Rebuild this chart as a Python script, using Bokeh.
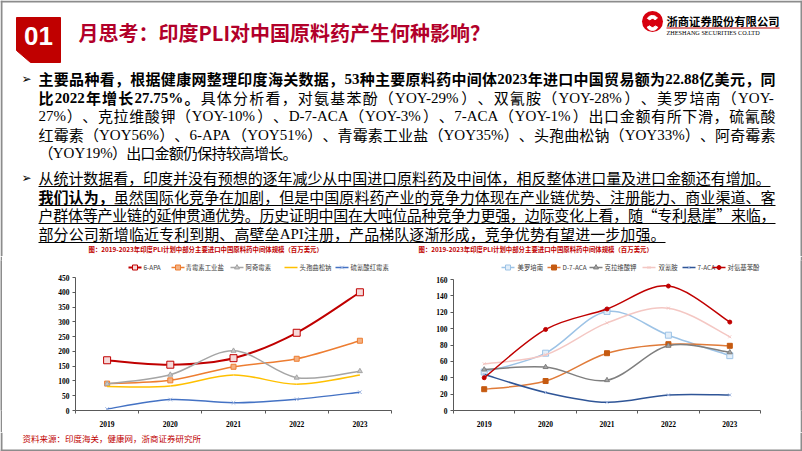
from bokeh.plotting import figure
from bokeh.layouts import column, row
from bokeh.models import Range1d, FixedTicker, Label, ColumnDataSource
from bokeh.core.properties import value
from bokeh.embed import file_html
from bokeh.resources import INLINE

# ---------------- data ----------------
years = ["2019", "2020", "2021", "2022", "2023"]

c1_names = ["6-APA", "青霉素工业盐", "阿奇霉素", "头孢曲松钠", "硫氰酸红霉素"]
c1_apa6 = [170, 155, 177, 263, 400]
c1_qms = [91, 102, 148, 175, 236]
c1_aqms = [90, 121, 202, 111, 133]
c1_tbqsn = [81, 83, 120, 89, 120]
c1_lqshms = [5, 37, 26, 38, 62]
c1_yticks = [0, 50, 100, 150, 200, 250, 300, 350, 400, 450]

c2_names = ["美罗培南", "D-7-ACA", "克拉维酸钾", "双氰胺", "7-ACA", "对氨基苯酚"]
c2_mlpn = [47, 70, 121, 92, 67]
c2_d7aca = [26, 36, 70, 81, 79]
c2_klwsj = [50, 53, 37, 79, 71]
c2_sqa = [57, 68, 107, 125, 90]
c2_aca7 = [44, 22, 10, 19, 19]
c2_djbbf = [40, 99, 124, 152, 108]
c2_yticks = [0, 20, 40, 60, 80, 100, 120, 140, 160]

chart_title = "图：2019-2023年印度PLI计划中部分主要进口中国原料药中间体规模（百万美元）"
source_note = "资料来源：印度海关，健康网，浙商证券研究所"
page_no = "6"

CJK = "Noto Sans CJK SC"
SERIF = "Liberation Serif"
BORDER = "#8C8C8C"

# ---------------- text layout helpers ----------------
W_R = {"%": 0.833, ".": 0.25, "-": 0.333, "Y": 0.722, "O": 0.722, "A": 0.722,
       "C": 0.667, "D": 0.722, "P": 0.556, "I": 0.333, "L": 0.611}
W_B = {"%": 1.0, ".": 0.25, "-": 0.333, "Y": 0.722, "O": 0.778, "A": 0.722,
       "C": 0.722, "D": 0.722, "P": 0.611, "I": 0.389, "L": 0.667}


def is_lat(ch):
    return ord(ch) < 0x2000


def layout_line(segs, x0, x1, y, fs, out):
    toks = []
    for text, bold in segs:
        i = 0
        while i < len(text):
            if is_lat(text[i]):
                j = i
                while j < len(text) and is_lat(text[j]):
                    j += 1
                run = text[i:j]
                tb = W_B if bold else W_R
                w = sum(tb.get(c, 0.5) for c in run) * fs
                toks.append((run, bold, SERIF, w))
                i = j
            else:
                toks.append((text[i], bold, CJK, fs))
                i += 1
    nat = sum(t[3] for t in toks)
    gap = (x1 - x0 - nat) / max(len(toks) - 1, 1)
    x = x0
    for t, b, f, w in toks:
        out["x"].append(x)
        out["y"].append(y)
        out["t"].append(t)
        out["f"].append(f)
        out["s"].append("bold" if b else "normal")
        x += w + gap


body = [
    ([("主要品种看，根据健康网整理印度海关数据，53种主要原料药中间体2023年进口中国贸易额为22.88亿美元，同", True)], 78, 775),
    ([("比2022年增长27.75%。", True), ("具体分析看，对氨基苯酚（YOY-29%）、双氰胺（YOY-28%）、美罗培南（YOY-", False)], 97, 775),
    ([("27%）、克拉维酸钾（YOY-10%）、D-7-ACA（YOY-3%）、7-ACA（YOY-1%）出口金额有所下滑，硫氰酸", False)], 115, 775),
    ([("红霉素（YOY56%）、6-APA（YOY51%）、青霉素工业盐（YOY35%）、头孢曲松钠（YOY33%）、阿奇霉素", False)], 134, 775),
    ([("（YOY19%）出口金额仍保持较高增长。", False)], 152, 297),
    ([("从统计数据看，印度并没有预想的逐年减少从中国进口原料药及中间体，相反整体进口量及进口金额还有增加。", False)], 177, 770),
    ([("我们认为，", True), ("虽然国际化竞争在加剧，但是中国原料药产业的竞争力体现在产业链优势、注册能力、商业渠道、客", False)], 196, 775),
    ([("户群体等产业链的延伸贯通优势。历史证明中国在大吨位品种竞争力更强，边际变化上看，随“专利悬崖”来临，", False)], 214, 775),
    ([("部分公司新增临近专利到期、高壁垒API注册，产品梯队逐渐形成，竞争优势有望进一步加强。", False)], 233, 665),
]


def blank(width, height, xr, yr, bg="white"):
    f = figure(width=width, height=height, x_range=xr, y_range=yr, output_backend="svg",
               toolbar_location=None, min_border=0, x_axis_location=None,
               y_axis_location=None, background_fill_color=bg, border_fill_color=bg)
    f.grid.visible = False
    f.outline_line_color = None
    return f


# ---------------- top figure (header + text) ----------------
top = blank(802, 256, Range1d(0, 802), Range1d(256, 0))
top.segment([1, 801, 0], [0, 0, 1], [1, 801, 802], [256, 256, 1], line_color=BORDER, line_width=2)

top.patch([16, 60, 60, 30, 16], [17, 17, 62, 62, 50], color="#C00000")
top.text([38], [35], text=["01"], text_font=value("Liberation Sans"), text_font_style="bold",
         text_font_size="26px", text_color="white", text_align="center", text_baseline="middle")
top.text([78], [32], text=["月思考：印度PLI对中国原料药产生何种影响？"], text_font=value(CJK),
         text_font_style="bold", text_font_size="20px", text_color="#B2002A",
         text_align="left", text_baseline="middle")

# logo
top.scatter([652], [21], marker="circle", size=21, fill_color="#D7000F", line_color=None)
top.annular_wedge([652], [21], inner_radius=3, outer_radius=6, start_angle=0.6, end_angle=2.6,
                  color="white")
top.annular_wedge([652], [24], inner_radius=3, outer_radius=6, start_angle=3.6, end_angle=5.8,
                  color="white")
top.text([666], [20], text=["浙商证券股份有限公司"], text_font=value(CJK), text_font_style="bold",
         text_font_size="11.3px", text_color="black", text_baseline="middle")
top.segment([666], [27.5], [779], [27.5], line_color="#C00000", line_width=1)
top.text([666], [31.5], text=["ZHESHANG SECURITIES CO.LTD"], text_font=value(SERIF),
         text_font_size="6.2px", text_color="black", text_baseline="middle")

# body text
tok = dict(x=[], y=[], t=[], f=[], s=[])
for segs, y, xe in body:
    layout_line(segs, 38, xe, y, 15, tok)
top.text(x="x", y="y", text="t", text_font="f", text_font_style="s", source=ColumnDataSource(tok),
         text_font_size="15px", text_color="black", text_align="left", text_baseline="middle")
top.text([21, 21], [78, 177], text=["➢", "➢"], text_font=value("DejaVu Sans"),
         text_font_size="12px", text_color="black", text_baseline="middle")
ul_y = [186, 205, 223, 242]
ul_x1 = [770, 775, 775, 665]
top.segment(x0=[38] * 4, y0=ul_y, x1=ul_x1, y1=ul_y, line_color="black", line_width=1)

# chart titles
top.text([88, 418], [249, 249], text=[chart_title, chart_title], text_font=value(CJK),
         text_font_style="bold", text_font_size="6.4px", text_color="#C00000",
         text_baseline="middle")


# ---------------- charts ----------------
def smooth(vals):
    n = len(vals)
    xs = list(range(n))
    d = dict(x0=[], y0=[], x1=[], y1=[], cx0=[], cy0=[], cx1=[], cy1=[])
    for i in range(n - 1):
        a = max(i - 1, 0)
        b = min(i + 2, n - 1)
        d["x0"].append(xs[i]); d["y0"].append(vals[i])
        d["x1"].append(xs[i + 1]); d["y1"].append(vals[i + 1])
        d["cx0"].append(xs[i] + (xs[i + 1] - xs[a]) / 6)
        d["cy0"].append(vals[i] + (vals[i + 1] - vals[a]) / 6)
        d["cx1"].append(xs[i + 1] - (xs[b] - xs[i]) / 6)
        d["cy1"].append(vals[i + 1] - (vals[b] - vals[i]) / 6)
    return d


def make_chart(cx0, cx1, cy0, cy1, fl, fr, ft, fb, ymax, ymax_px, yticks, series, leg):
    y_end = ymax * (fb - ft) / (fb - ymax_px)
    n = len(years)
    p = figure(width=cx1 - cx0, height=cy1 - cy0, x_range=Range1d(-0.5, n - 0.5),
               y_range=Range1d(0, y_end), output_backend="svg", toolbar_location=None,
               min_border_left=fl - cx0, min_border_right=cx1 - fr,
               min_border_top=ft - cy0, min_border_bottom=cy1 - fb)
    p.grid.visible = False
    p.outline_line_color = None
    ya = p.yaxis[0]
    ya.ticker = FixedTicker(ticks=yticks, minor_ticks=[])
    ya.bounds = (0, ymax)
    ya.major_tick_in = 0
    ya.major_tick_out = 3
    ya.major_label_standoff = 3
    xa = p.xaxis[0]
    xa.ticker = FixedTicker(ticks=list(range(n)), minor_ticks=[i - 0.5 for i in range(n + 1)])
    xa.major_label_overrides = {i: y for i, y in enumerate(years)}
    xa.major_tick_in = 0
    xa.major_tick_out = 0
    xa.minor_tick_in = 0
    xa.minor_tick_out = 3
    xa.major_label_standoff = 7
    for ax in (xa, ya):
        ax.axis_line_color = "#595959"
        ax.major_tick_line_color = "#595959"
        ax.minor_tick_line_color = "#595959"
        ax.major_label_text_font = SERIF
        ax.major_label_text_font_style = "bold"
        ax.major_label_text_font_size = "7.5px"
        ax.major_label_text_color = "black"

    def dx(px):
        return -0.5 + (px - fl) * n / (fr - fl)

    def dy(py):
        return (fb - py) * y_end / (fb - ft)

    xs = list(range(n))
    ly = dy(267)
    for (name, vals, color, lw, mk, ms, mfill, mline), (lx0, tx) in zip(series, leg):
        p.bezier(source=ColumnDataSource(smooth(vals)), x0="x0", y0="y0", x1="x1", y1="y1",
                 cx0="cx0", cy0="cy0", cx1="cx1", cy1="cy1", line_color=color, line_width=lw)
        p.segment([dx(lx0)], [ly], [dx(lx0 + 13)], [ly], line_color=color, line_width=lw)
        if mk:
            p.scatter(xs, vals, marker=mk, size=ms, fill_color=mfill, line_color=mline,
                      line_width=1)
            p.scatter([dx(lx0 + 6.5)], [ly], marker=mk, size=min(ms, 5), fill_color=mfill,
                      line_color=mline, line_width=1)
        p.text([dx(tx)], [ly], text=[name], text_font=value(CJK), text_font_size="6.4px",
               text_color="#404040", text_baseline="middle")
    return p, dx, dy


s1 = [
    (c1_names[0], c1_apa6, "#C00000", 2, "square", 7, "#F6DADA", "#C00000"),
    (c1_names[1], c1_qms, "#ED7D31", 1.5, "square", 5, "#F4B183", "#ED7D31"),
    (c1_names[2], c1_aqms, "#A5A5A5", 1.5, "triangle", 5, "#C9C9C9", "#A5A5A5"),
    (c1_names[3], c1_tbqsn, "#FFC000", 1.5, None, 0, None, None),
    (c1_names[4], c1_lqshms, "#4472C4", 1.5, "x", 5, None, "#9DB4E0"),
]
leg1 = [(128, 143), (171, 185), (230, 245), (284, 299), (335, 350)]
s2 = [
    (c2_names[0], c2_mlpn, "#9DC3E6", 1.5, "square", 6, "#E2EEF9", "#9DC3E6"),
    (c2_names[1], c2_d7aca, "#E07B39", 1.5, "square", 5, "#C55A11", "#C55A11"),
    (c2_names[2], c2_klwsj, "#7F7F7F", 1.5, "triangle", 5, "#A5A5A5", "#7F7F7F"),
    (c2_names[3], c2_sqa, "#F4C7C3", 1.5, "x", 4, None, "#F4C7C3"),
    (c2_names[4], c2_aca7, "#2F5597", 1.5, "x", 4, None, "#9DB4E0"),
    (c2_names[5], c2_djbbf, "#C00000", 1.5, "circle", 4, "#C00000", "#C00000"),
]
leg2 = [(501, 517), (547, 562), (589, 604), (642, 658), (682, 697), (712, 727)]

left, _, _ = make_chart(2, 400, 256, 432, 75, 391, 260, 410, 450, 277, c1_yticks, s1, leg1)
right, rdx, rdy = make_chart(400, 800, 256, 432, 453, 760, 260, 410, 160, 279, c2_yticks, s2, leg2)
right.add_layout(Label(x=rdx(780), y=rdy(421), text=page_no, text_font="Liberation Sans",
                       text_font_size="15px", text_color="#595959", text_align="center",
                       text_baseline="middle"))

strip_l = blank(2, 176, Range1d(0, 1), Range1d(0, 1), bg=BORDER)
strip_r = blank(2, 176, Range1d(0, 1), Range1d(0, 1), bg=BORDER)

# ---------------- bottom ----------------
bot = blank(802, 19, Range1d(0, 802), Range1d(451, 432))
bot.segment([1, 801, 0], [432, 432, 450], [1, 801, 802], [451, 451, 450],
            line_color=BORDER, line_width=2)
bot.text([22], [437.5], text=[source_note], text_font=value(CJK), text_font_size="8.5px",
         text_color="#C00000", text_baseline="middle")

layout = column(top, row(strip_l, left, right, strip_r), bot)
open("out.html", "w").write(file_html(layout, INLINE))
